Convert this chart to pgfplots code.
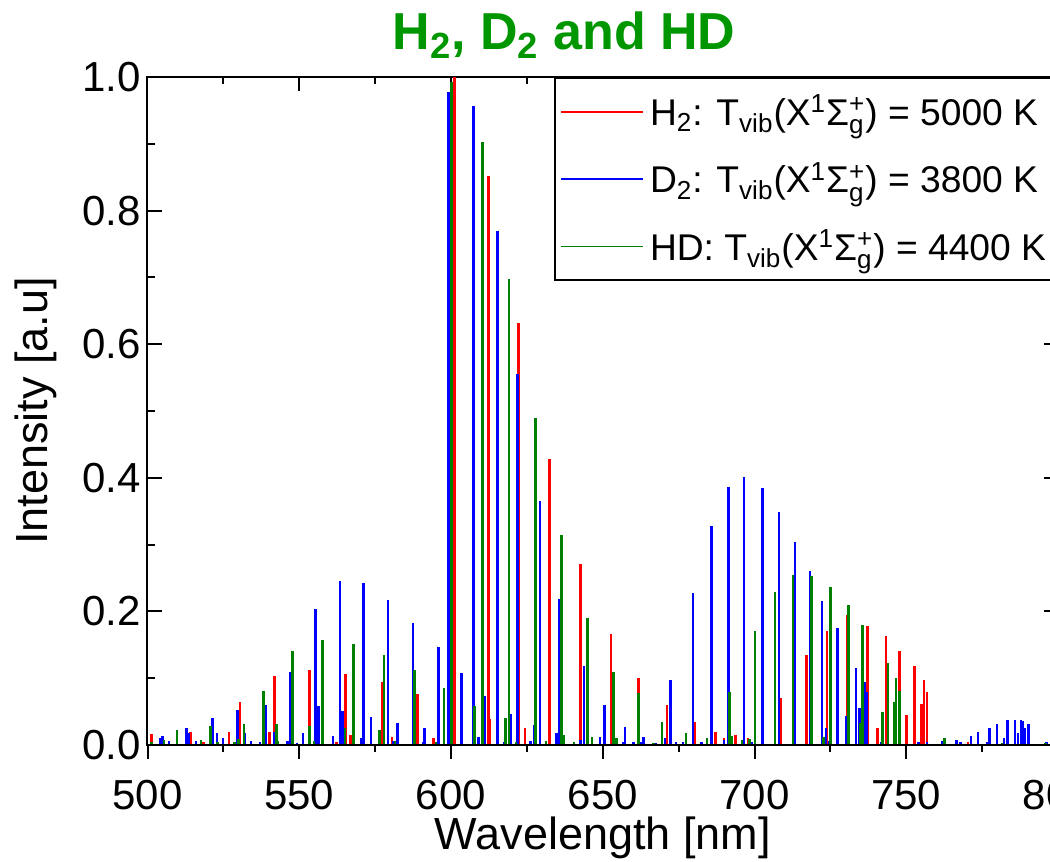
\documentclass[border=0pt]{standalone}
\usepackage{fontspec}
\setmainfont{Liberation Sans}
\usepackage{amsmath}
\usepackage{pgfplots}
\usepackage{pgfplotstable}
\pgfplotsset{compat=1.18}
\definecolor{hred}{RGB}{255,0,0}
\definecolor{dblue}{RGB}{0,0,255}
\definecolor{hdgreen}{RGB}{0,128,0}
\definecolor{titlegreen}{RGB}{0,150,0}

\pgfplotstableread{
x y
501.4 0.016
514.2 0.020
516.0 0.006
518.5 0.004
526.9 0.019
530.5 0.064
540.2 0.019
541.9 0.104
553.4 0.113
562.3 0.005
565.2 0.107
566.9 0.015
577.3 0.095
580.6 0.012
588.9 0.076
594.2 0.010
601.1 1.000
612.4 0.852
612.9 0.039
622.3 0.632
624.3 0.025
632.5 0.428
642.6 0.271
652.7 0.166
661.7 0.101
671.1 0.060
680.4 0.034
687.2 0.020
690.0 0.010
693.8 0.015
697.9 0.011
708.7 0.070
717.2 0.135
723.9 0.171
730.6 0.195
737.3 0.178
740.6 0.026
743.3 0.163
747.7 0.141
750.1 0.045
752.7 0.118
755.0 0.061
755.8 0.098
756.8 0.079
770.3 0.005
}\Htwo

\pgfplotstableread{
x y
504.3 0.010
504.9 0.014
507.1 0.006
512.8 0.025
513.6 0.018
516.0 0.006
521.4 0.041
522.9 0.018
524.9 0.010
529.7 0.053
532.2 0.018
534.1 0.006
537.0 0.004
539.0 0.060
541.7 0.019
546.1 0.006
547.1 0.109
549.2 0.003
551.3 0.018
555.4 0.204
556.3 0.058
561.2 0.013
563.4 0.245
564.3 0.051
570.5 0.011
571.1 0.243
573.7 0.042
579.3 0.217
581.0 0.006
582.4 0.033
587.4 0.183
590.7 0.004
591.2 0.025
595.9 0.147
599.2 0.978
603.4 0.108
607.4 0.956
609.0 0.012
611.2 0.073
615.4 0.769
617.4 0.005
619.7 0.047
621.9 0.556
626.2 0.006
627.3 0.030
629.3 0.366
634.8 0.018
635.8 0.219
642.6 0.008
643.8 0.119
649.1 0.012
650.5 0.060
656.6 0.004
657.4 0.027
660.1 0.005
662.5 0.004
663.5 0.012
667.4 0.003
670.5 0.010
672.4 0.097
674.1 0.004
676.5 0.004
679.7 0.228
682.5 0.005
685.8 0.328
690.0 0.008
691.5 0.386
696.6 0.401
699.2 0.005
702.6 0.384
708.0 0.349
713.4 0.304
718.3 0.260
722.2 0.216
723.5 0.026
724.5 0.006
727.3 0.175
730.2 0.043
733.5 0.116
734.6 0.055
736.3 0.095
736.9 0.080
741.7 0.005
754.0 0.004
756.8 0.004
762.0 0.006
766.6 0.008
767.9 0.004
771.3 0.014
773.7 0.020
776.6 0.005
777.4 0.026
779.9 0.032
782.2 0.011
783.4 0.037
785.9 0.038
786.8 0.018
787.8 0.037
788.4 0.036
789.1 0.026
790.2 0.032
796.2 0.004
}\Dtwo

\pgfplotstableread{
x y
501.3 0.005
505.5 0.008
509.8 0.023
517.6 0.008
520.8 0.029
523.0 0.004
528.6 0.004
530.0 0.009
531.8 0.032
538.2 0.081
542.5 0.032
543.0 0.006
547.8 0.140
553.4 0.029
554.8 0.006
557.7 0.157
565.0 0.025
567.8 0.151
576.4 0.022
578.0 0.135
581.6 0.006
587.9 0.113
595.0 0.004
597.7 0.086
600.2 0.993
607.8 0.059
610.3 0.902
617.9 0.041
619.1 0.697
621.4 0.005
627.8 0.489
631.3 0.006
636.4 0.315
637.2 0.015
640.6 0.004
645.0 0.190
646.4 0.012
653.5 0.110
654.6 0.010
661.8 0.078
666.7 0.003
669.6 0.034
677.4 0.018
684.3 0.010
691.8 0.080
692.6 0.014
695.9 0.008
698.3 0.009
700.1 0.170
706.7 0.229
712.6 0.254
718.7 0.253
722.8 0.012
725.1 0.236
730.9 0.210
734.9 0.033
735.6 0.180
742.2 0.049
743.9 0.123
746.1 0.065
746.7 0.100
747.7 0.081
762.6 0.010
781.6 0.003
795.9 0.003
}\HD

\newcommand{\Xstate}{(X${}^{\text{1}}$Σ${}^{\text{+}}_{\text{g}}$)}

\begin{document}
\begin{tikzpicture}
\begin{axis}[
  name=main,
  scale only axis, width=455.25pt, height=334pt,
  xmin=500, xmax=800, ymin=0, ymax=1,
  xtick={500,550,600,650,700,750,800}, minor x tick num=1,
  ytick={0,0.2,0.4,0.6,0.8,1.0}, minor y tick num=1,
  tick align=inside,
  xtick pos=right,
  xticklabels={},
  ytick pos=both,
  yticklabel pos=left,
  major tick length=7pt, minor tick length=3.5pt,
  tick style={black, line width=1pt},
  axis line style={line width=1pt},
  /pgf/number format/assume math mode=true,
  yticklabel style={/pgf/number format/.cd, fixed, fixed zerofill, precision=1},
  tick label style={font=\fontsize{21}{25}\selectfont},
  ylabel={Intensity [a.u]},
  every axis y label/.style={at={(axis description cs:-0.1225,0.5)}, rotate=90, anchor=center, font=\fontsize{22.5}{27}\selectfont},
  title={\textbf{H${}_{\text{2}}$, D${}_{\text{2}}$ and HD}},
  title style={at={(axis description cs:0.4575,1)}, anchor=base, yshift=7.5pt, font=\fontsize{26}{31}\selectfont, text=titlegreen},
  legend style={at={(rel axis cs:1,1)}, anchor=north east, draw=black, line width=1pt,
    font=\fontsize{18.6}{22}\selectfont, inner xsep=2.5pt, inner ysep=6.5pt, row sep=13pt,
    nodes={inner xsep=3pt}},
  legend cell align=left,
  legend image code/.code={\draw[#1, line width=0.8pt] (0pt,0pt) -- (41pt,0pt);},
]
\addplot[ycomb, hred, line width=1.25pt] table {\Htwo};
\addlegendentry{H${}_{\text{2}}$: T${}_{\text{vib}}$\Xstate{} = 5000 K}
\addplot[ycomb, dblue, line width=1.25pt] table {\Dtwo};
\addlegendentry{D${}_{\text{2}}$: T${}_{\text{vib}}$\Xstate{} = 3800 K}
\addplot[ycomb, hdgreen, line width=1.25pt] table {\HD};
\addlegendentry{HD: T${}_{\text{vib}}$\Xstate{} = 4400 K\rule[-15pt]{0pt}{1pt}}
\end{axis}
\begin{axis}[
  scale only axis, width=455.25pt, height=334pt,
  xmin=500, xmax=800, ymin=0, ymax=1,
  axis x line*=bottom, axis y line=none,
  xtick={500,550,600,650,700,750,800}, minor x tick num=1,
  tick align=outside,
  major tick length=7pt, minor tick length=3.5pt,
  tick style={black, line width=1pt},
  axis line style={line width=1pt},
  /pgf/number format/assume math mode=true,
  tick label style={font=\fontsize{21}{25}\selectfont},
  xticklabel style={yshift=-7pt},
  xlabel={Wavelength [nm]},
  every axis x label/.style={at={(axis description cs:0.5,-0.1392)}, anchor=center, font=\fontsize{22.5}{27}\selectfont},
]
\end{axis}
\pgfresetboundingbox
\path[use as bounding box] ([shift={(-73.75pt,-58pt)}]main.south west) rectangle ([shift={(-4pt,38.5pt)}]main.north east);
\end{tikzpicture}
\end{document}
